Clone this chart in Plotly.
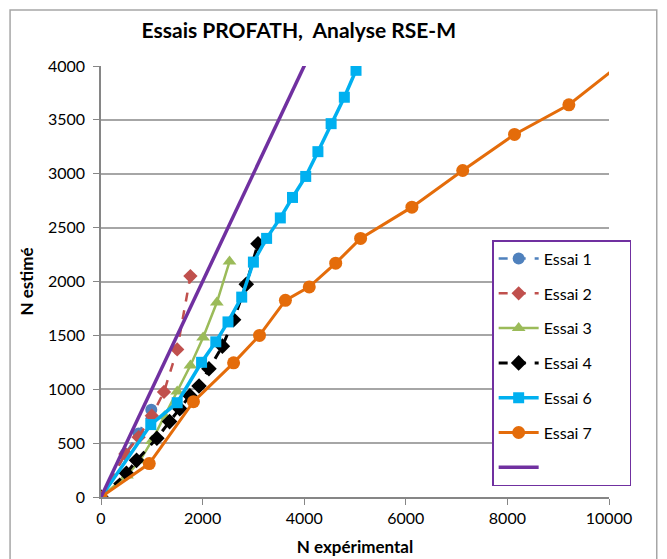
import plotly.graph_objects as go

# ---- data ----
essai1_x = [0, 480, 740, 990]
essai1_y = [0, 400, 590, 810]

essai2_x = [0, 480, 740, 1000, 1240, 1500, 1760]
essai2_y = [0, 400, 555, 755, 975, 1370, 2050]

essai3_x = [0, 510, 770, 1000, 1250, 1500, 1760, 2010, 2280, 2530]
essai3_y = [0, 200, 340, 520, 750, 980, 1220, 1480, 1805, 2185]

essai4_x = [0, 500, 700, 1100, 1350, 1550, 1750, 1930, 2125, 2390, 2610, 2860, 3090]
essai4_y = [0, 220, 340, 545, 700, 820, 940, 1030, 1190, 1400, 1645, 1975, 2350]

essai6_x = [0, 980, 1500, 1980, 2260, 2500, 2770, 3000, 3260, 3530, 3770, 4030, 4270, 4530, 4790, 5020]
essai6_y = [0, 672, 875, 1250, 1440, 1625, 1855, 2180, 2400, 2590, 2780, 2975, 3205, 3465, 3710, 3960]

essai7_x = [0, 950, 1820, 2610, 3120, 3630, 4100, 4620, 5110, 6120, 7120, 8140, 9210, 10300]
essai7_y = [0, 310, 885, 1245, 1500, 1825, 1950, 2170, 2400, 2690, 3030, 3365, 3640, 4045]

ref_x = [0, 10000]
ref_y = [0, 10000]

x_ticks = [0, 2000, 4000, 6000, 8000, 10000]
y_ticks = [0, 500, 1000, 1500, 2000, 2500, 3000, 3500, 4000]

FONT = "Lato"
NB = "\u00a0"

fig = go.Figure()

def add(x, y, name, color, dash, symbol, msize, width, group):
    fig.add_trace(go.Scatter(
        x=x, y=y, name=name + NB * 8, mode="lines+markers",
        line=dict(color=color, width=width, dash=dash),
        marker=dict(symbol=symbol, size=msize, color=color),
        legendgroup=group,
    ))

add(essai1_x, essai1_y, "Essai 1", "#4F81BD", "dash", "circle", 12, 2.5, "g1")
add(essai2_x, essai2_y, "Essai 2", "#C0504D", "dash", "diamond", 11, 2.5, "g2")
add(essai3_x, essai3_y, "Essai 3", "#9BBB59", "solid", "triangle-up", 12, 2.5, "g3")
add(essai4_x, essai4_y, "Essai 4", "#000000", "dash", "diamond", 12, 3, "g4")
add(essai6_x, essai6_y, "Essai 6", "#00B0F0", "solid", "square", 11, 3.5, "g6")
add(essai7_x, essai7_y, "Essai 7", "#E46C0A", "solid", "circle", 13, 3, "g7")

fig.add_trace(go.Scatter(
    x=ref_x, y=ref_y, name=NB, mode="lines",
    line=dict(color="#7030A0", width=3.5), legendgroup="g8",
))

fig.update_layout(
    width=667, height=559,
    margin=dict(l=93, r=66, t=58, b=70, autoexpand=False),
    paper_bgcolor="white", plot_bgcolor="white",
    font=dict(family=FONT, size=16, color="#000000"),
    title=dict(text="<b>Essais PROFATH,  Analyse RSE-M</b>",
               x=0.436, xanchor="center", y=0.959, yanchor="middle",
               font=dict(family=FONT, size=21, color="#000000")),
    showlegend=True,
    legend=dict(
        x=0.77, y=0.596, xanchor="left", yanchor="top",
        bgcolor="white", bordercolor="#7030A0", borderwidth=1.5,
        font=dict(family=FONT, size=16, color="#000000"),
        tracegroupgap=11, itemwidth=40,
    ),
)

fig.update_xaxes(
    range=[0, 10000], tickvals=x_ticks, ticktext=[str(v) for v in x_ticks],
    showgrid=False, zeroline=False, automargin=False,
    showline=True, linecolor="#868686", linewidth=1.5,
    ticks="outside", ticklen=6, tickcolor="#868686",
    tickfont=dict(family=FONT, size=16),
    title=dict(text="<b>N expérimental</b>", font=dict(family=FONT, size=17), standoff=15),
)
fig.update_yaxes(
    range=[0, 4000], tickvals=y_ticks, ticktext=[str(v) for v in y_ticks],
    showgrid=True, gridcolor="#A6A6A6", gridwidth=1.5, zeroline=False, automargin=False,
    showline=True, linecolor="#868686", linewidth=1.5,
    ticks="outside", ticklen=6, tickcolor="#868686", ticklabelstandoff=5,
    tickfont=dict(family=FONT, size=16),
    title=dict(text="<b>N estimé</b>", font=dict(family=FONT, size=17), standoff=10),
)

# outer chart frame
fig.add_shape(type="rect", xref="paper", yref="paper",
              x0=-0.179, x1=1.094, y0=-0.3, y1=1.13,
              line=dict(color="#A6A6A6", width=1.5), layer="below")

fig.write_html("out.html")
